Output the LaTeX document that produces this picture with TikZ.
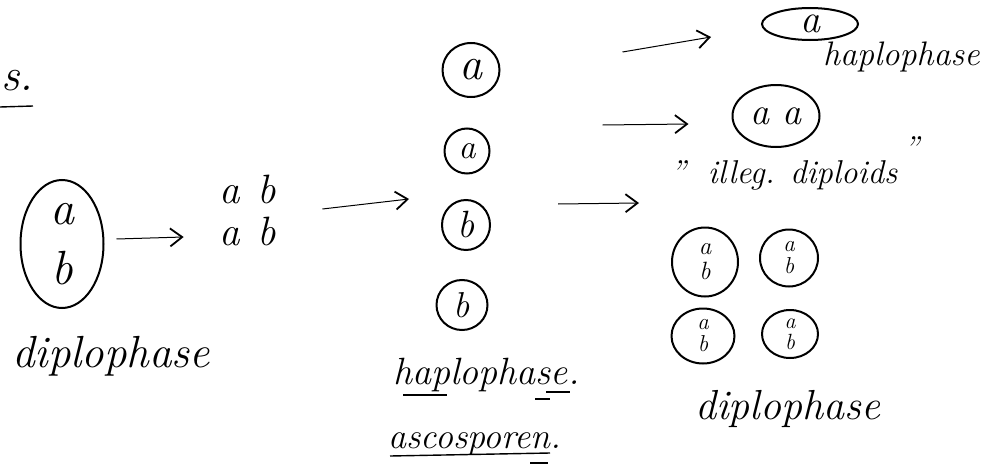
\documentclass[tikz,border=0pt]{standalone}
\usepackage{fontspec}
\usetikzlibrary{shapes.geometric,arrows.meta,calc}
\newcommand\hw[2]{\fontsize{#1}{#2}\selectfont\itshape}
\begin{document}
\begin{tikzpicture}[x=1pt,y=-1pt,
  cell/.style={ellipse, draw, line width=2pt, inner sep=0pt, align=center},
  lbl/.style={inner sep=0pt, anchor=base west},
  arr/.style={line width=1pt, -{Straight Barb[length=12pt,width=18pt,line width=1.8pt]}},
  ul/.style={line width=1.4pt}]
\useasboundingbox (0,0) rectangle (990,471);

% top-left fragment
\node[lbl, font=\hw{46}{46}] (S) at (1,90) {s.};
\draw[ul] ($(S.base west)+(-1,17)$) -- ++(33,-1);

% left diplophase cell
\node[cell, minimum width=83pt, minimum height=128pt, font=\hw{48}{60}] (D) at (62,244) {a\\b};
\node[lbl, font=\hw{45}{45}] (dipL) at (12,367) {diplophase};

% a b / a b
\node[inner sep=0pt, align=center, font=\hw{41}{42}] (M) at (248,210) {a\hspace{3pt} b\\a\hspace{3pt} b};
\draw[arr] ($(D.east)+(12,-5)$) -- ($(M.west)+(-36,27)$);

% column of spores
\node[cell, minimum width=57pt, minimum height=54pt, font=\hw{46}{46}] (C1) at (471,70) {a};
\node[cell, minimum width=45pt, minimum height=45pt, font=\hw{34}{34}] (C2) at (467,151) {a};
\node[cell, minimum width=48pt, minimum height=50pt, font=\hw{38}{38}] (C3) at (466,225) {b};
\node[cell, minimum width=51pt, minimum height=50pt, font=\hw{36}{36}] (C4) at (462,305) {b};
\draw[arr] ($(M.east)+(46,-1)$) -- ($(C3.west)+(-32,-26)$);

\node[lbl, font=\hw{38}{38}] (hapM) at (393,384) {haplophase.};
\draw[ul] ($(hapM.base west)+(10,11)$) -- ++(44,0);
\draw[ul] ($(hapM.base west)+(142,15)$) -- ++(15,0);
\draw[ul] ($(hapM.base west)+(153,8)$) -- ++(24,0);
\node[lbl, font=\hw{36}{36}] (asco) at (388,448) {ascosporen.};
\draw[ul] ($(asco.base west)+(2,8)$) -- ++(160,-3);
\draw[ul] ($(asco.base west)+(142,15)$) -- ++(18,0);

% right side
\node[cell, minimum width=96pt, minimum height=32pt, font=\hw{40}{40}] (R1) at (810,24) {a};
\node[lbl, font=\hw{34}{34}] (hapR) at (823,65) {haplophase};
\node[cell, minimum width=87pt, minimum height=62pt, font=\hw{38}{38}] (R2) at (776,116) {a a};
\node[lbl, font=\hw{33}{33}] (ill) at (670,183) {"\hspace{22pt}illeg. diploids\hspace{6pt}\raisebox{24pt}{"}};

\node[cell, minimum width=66pt, minimum height=69pt, font=\hw{25}{25}] (Q1) at (705,262) {a\\b};
\node[cell, minimum width=58pt, minimum height=57pt, font=\hw{23}{22}] (Q2) at (789,258) {a\\b};
\node[cell, minimum width=63pt, minimum height=55pt, font=\hw{23}{22}] (Q3) at (703,336) {a\\b};
\node[cell, minimum width=56pt, minimum height=48pt, font=\hw{22}{21}] (Q4) at (790,334) {a\\b};
\node[lbl, font=\hw{42}{42}] (dipR) at (695,419) {diplophase};

\draw[arr] ($(C1.east)+(122,-18)$) -- ($(R1.west)+(-50,13)$);
\draw[arr] ($(C2.east)+(112,-26)$) -- ($(R2.west)+(-43,8)$);
\draw[arr] ($(C3.east)+(67,-21)$) -- ($(Q1.west)+(-32,-59)$);
\end{tikzpicture}
\end{document}
